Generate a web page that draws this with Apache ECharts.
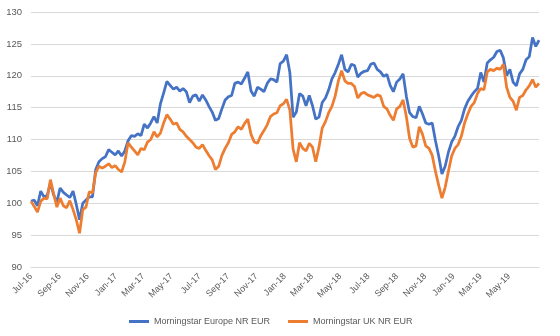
<!DOCTYPE html>
<html>
<head>
<meta charset="utf-8">
<script src="https://cdn.jsdelivr.net/npm/echarts@6/dist/echarts.min.js"></script>
<style>
html,body{margin:0;padding:0;background:#fff;}
#chart{width:560px;height:336px;}
</style>
</head>
<body>
<div id="chart"></div>
<script>
// Weekly readings starting on this date, one value every 7 days
const startDate = '2016-07-01';
const seriesNames = ['Morningstar Europe NR EUR', 'Morningstar UK NR EUR'];
const europe = [
100.3,100.5,99.6,101.9,101.0,101.2,103.2,101.3,100.2,102.4,
101.7,101.3,100.9,101.9,99.8,97.4,100.0,100.5,101.0,101.0,
105.3,106.5,107.0,107.3,108.4,108.0,107.6,108.2,107.4,108.2,
109.8,110.6,110.5,110.9,110.6,112.4,111.8,112.6,113.6,112.6,
115.6,117.3,119.1,118.5,117.9,118.2,117.6,118.0,117.5,115.8,
116.8,117.0,116.0,117.0,116.2,115.2,114.3,113.0,113.3,114.8,
116.2,116.7,116.9,118.8,119.0,118.7,119.6,120.6,117.6,116.8,
118.2,117.9,117.5,118.8,119.5,119.4,119.0,121.9,122.3,123.3,
120.5,113.5,114.3,117.2,116.8,115.3,116.9,115.3,113.2,113.5,
115.8,116.5,117.8,119.5,120.5,121.8,123.3,121.0,120.6,121.8,
121.6,119.8,120.4,120.7,120.8,121.8,122.0,121.0,120.6,119.9,
120.2,118.5,117.5,119.0,119.5,120.3,116.8,114.2,113.6,113.4,
115.2,114.0,112.6,112.4,112.6,109.8,107.4,104.6,105.8,108.0,
109.6,110.5,112.0,113.0,114.8,116.0,116.8,117.5,118.0,120.5,
119.0,122.0,122.5,122.9,123.8,124.0,122.8,120.0,121.0,119.0,
118.4,120.3,121.0,122.5,123.0,126.0,124.6,125.6
];
const uk = [
100.3,99.5,98.6,100.3,100.8,100.7,103.7,101.5,99.4,100.8,
99.6,99.3,100.4,99.0,97.4,95.3,99.0,99.4,101.8,101.6,
104.8,105.8,105.5,105.8,106.2,105.6,105.9,105.3,104.9,106.5,
109.5,108.8,108.2,107.6,108.6,108.4,109.6,110.0,111.2,110.4,
111.0,112.6,113.9,113.2,112.4,112.6,111.6,111.2,110.5,110.0,
109.5,108.8,108.6,109.2,108.3,107.5,106.8,105.3,105.8,107.5,
108.6,109.5,110.8,111.2,112.0,111.6,112.5,113.2,110.8,109.6,
109.4,110.6,111.4,112.3,113.6,114.0,114.2,115.3,115.6,116.3,
114.6,108.5,106.5,109.5,108.6,108.2,109.4,108.8,106.5,108.8,
111.8,112.8,114.2,115.2,116.8,119.2,120.8,119.2,118.8,118.8,
118.3,116.5,117.2,117.4,117.0,116.8,116.6,117.0,116.8,115.2,
114.8,113.8,113.0,114.8,115.2,116.2,113.6,110.2,108.8,109.0,
112.0,110.8,109.0,108.6,107.5,105.0,102.8,100.8,102.5,105.0,
107.4,108.6,109.2,110.5,112.6,114.0,115.2,115.8,117.2,118.0,
117.8,120.6,121.0,120.8,121.2,121.0,121.8,118.2,116.6,116.0,
114.6,116.6,116.9,117.8,118.4,119.4,118.2,118.8
];
const tickLabels = ['Jul-16','Sep-16','Nov-16','Jan-17','Mar-17','May-17','Jul-17','Sep-17','Nov-17',
  'Jan-18','Mar-18','May-18','Jul-18','Sep-18','Nov-18','Jan-19','Mar-19','May-19'];
const yMin = 90, yMax = 130, yStep = 5;

// build daily categories (Excel date axis) and place the weekly readings on them
const monthNames = ['Jan','Feb','Mar','Apr','May','Jun','Jul','Aug','Sep','Oct','Nov','Dec'];
const sp = startDate.split('-').map(Number);
const t0 = Date.UTC(sp[0], sp[1]-1, sp[2]);
const nDays = (europe.length - 1) * 7 + 1;
const days = [];
for (let i = 0; i < nDays; i++) days.push(new Date(t0 + i*86400000).toISOString().slice(0,10));
function place(arr){
  const out = new Array(nDays).fill(null);
  arr.forEach((v,k)=>{ out[k*7] = v; });
  return out;
}
const labelByDate = {};
tickLabels.forEach(l=>{
  const [m,y] = l.split('-');
  const mm = String(monthNames.indexOf(m)+1).padStart(2,'0');
  labelByDate['20'+y+'-'+mm+'-01'] = l;
});

const font = "'Liberation Sans', sans-serif";
const chart = echarts.init(document.getElementById('chart'), null, {renderer:'canvas'});
chart.setOption({
  animation:false,
  textStyle:{fontFamily:font},
  grid:{left:31,right:21,top:12,bottom:69,containLabel:false},
  legend:{
    left:124, top:312,
    itemWidth:20, itemHeight:3, itemGap:18, icon:'rect',
    textStyle:{color:'#595959',fontSize:9,fontFamily:font},
    data:seriesNames
  },
  xAxis:{
    type:'category', data:days, boundaryGap:false,
    axisLine:{lineStyle:{color:'#D9D9D9'}},
    axisTick:{show:false},
    splitLine:{show:false},
    axisLabel:{
      rotate:45, margin:8, color:'#595959', fontSize:9, fontFamily:font,
      interval:(idx,val)=>labelByDate[val]!==undefined,
      formatter:(val)=>labelByDate[val]||''
    }
  },
  yAxis:{
    type:'value', min:yMin, max:yMax, interval:yStep,
    axisLine:{show:false}, axisTick:{show:false},
    splitLine:{lineStyle:{color:'#D9D9D9',width:1}},
    axisLabel:{color:'#595959',fontSize:9.5,margin:9,fontFamily:font}
  },
  series:[
    {name:seriesNames[0],type:'line',data:place(europe),connectNulls:true,showSymbol:false,
     lineStyle:{color:'#4472C4',width:2.75},itemStyle:{color:'#4472C4'}},
    {name:seriesNames[1],type:'line',data:place(uk),connectNulls:true,showSymbol:false,
     lineStyle:{color:'#ED7D31',width:2.75},itemStyle:{color:'#ED7D31'}}
  ]
});
</script>
</body>
</html>
